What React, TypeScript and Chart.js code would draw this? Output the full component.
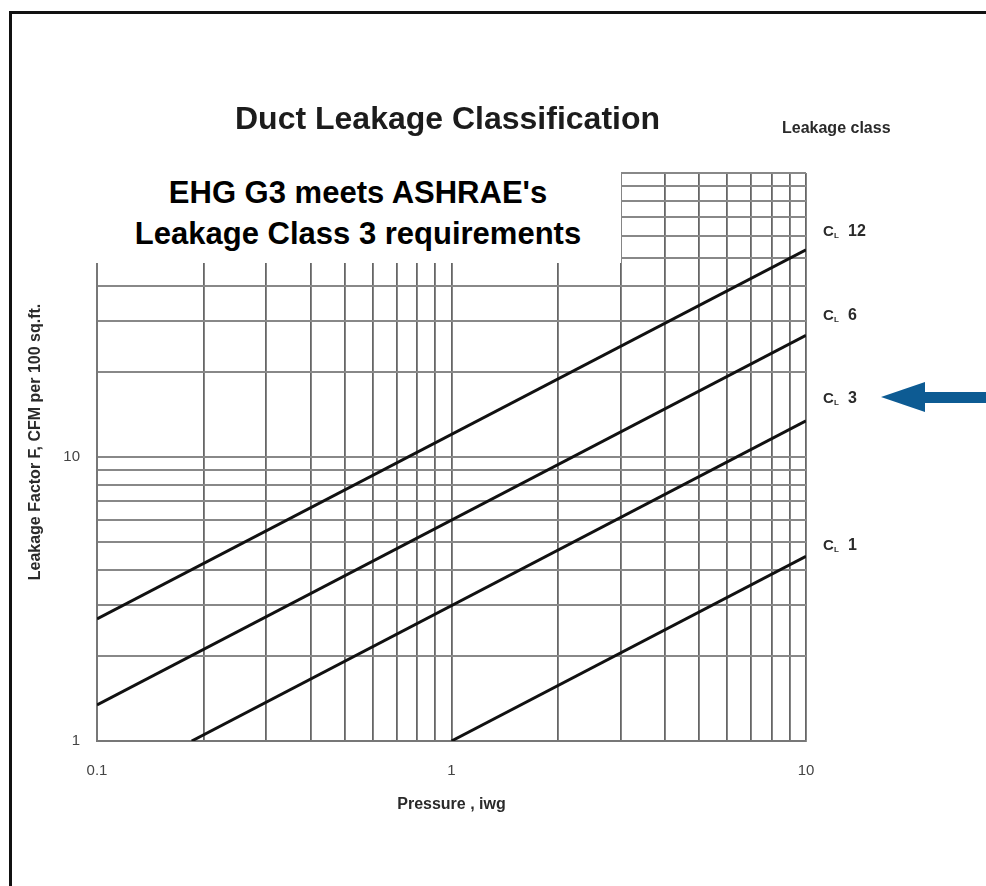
import React, { useEffect, useRef } from "react";
import { Chart, registerables } from "chart.js";

Chart.register(...registerables);

// ---- data ----
const pressureMin = 0.1;
const pressureMax = 10;
const factorMin = 1;
const factorMax = 100;

const xGridValues = [0.1, 0.2, 0.3, 0.4, 0.5, 0.6, 0.7, 0.8, 0.9, 1, 2, 3, 4, 5, 6, 7, 8, 9, 10];
const yGridValues = [1, 2, 3, 4, 5, 6, 7, 8, 9, 10, 20, 30, 40, 50, 60, 70, 80, 90, 100];
const xTickLabels = ["0.1", "1", "10"];
const yTickLabels = ["1", "10"];

const classNames = ["12", "6", "3", "1"];
const cl12 = [{ x: 0.1, y: 2.69 }, { x: 10, y: 53.6 }];
const cl6 = [{ x: 0.1, y: 1.34 }, { x: 10, y: 26.8 }];
const cl3 = [{ x: 0.185, y: 1 }, { x: 10, y: 13.4 }];
const cl1 = [{ x: 1, y: 1 }, { x: 10, y: 4.47 }];

// label positions (page px) for class labels
const classLabelTops = [231, 315, 398, 545];

const FONT = "'Liberation Sans', Arial, Helvetica, sans-serif";

function labelFor(list: string[], value: number): string {
  const found = list.find((l) => Math.abs(parseFloat(l) - value) < 1e-9);
  return found ?? "";
}

export default function App() {
  const canvasRef = useRef<HTMLCanvasElement | null>(null);

  useEffect(() => {
    const canvas = canvasRef.current;
    if (!canvas) return;
    const lineStyle = {
      borderColor: "#111",
      borderWidth: 3,
      pointRadius: 0,
      pointHoverRadius: 0,
      fill: false,
      tension: 0,
    };
    const chart = new Chart(canvas, {
      type: "line",
      data: {
        datasets: [
          { label: "CL " + classNames[0], data: cl12, ...lineStyle },
          { label: "CL " + classNames[1], data: cl6, ...lineStyle },
          { label: "CL " + classNames[2], data: cl3, ...lineStyle },
          { label: "CL " + classNames[3], data: cl1, ...lineStyle },
        ],
      },
      options: {
        responsive: false,
        animation: false,
        devicePixelRatio: 1,
        layout: { padding: { left: 0, top: 173, right: 180, bottom: 0 } },
        plugins: {
          legend: { display: false },
          tooltip: { enabled: false },
          title: { display: false },
        },
        scales: {
          x: {
            type: "logarithmic",
            min: pressureMin,
            max: pressureMax,
            afterBuildTicks: (axis: any) => {
              axis.ticks = xGridValues.map((v) => ({ value: v }));
            },
            afterFit: (axis: any) => {
              axis.height = 145;
            },
            ticks: {
              autoSkip: false,
              maxRotation: 0,
              padding: 21,
              color: "#444",
              font: { family: FONT, size: 15 },
              callback: (value: any) => labelFor(xTickLabels, Number(value)),
            },
            grid: {
              color: "#666",
              lineWidth: 1.8,
              drawTicks: false,
            },
            border: { display: true, color: "#777", width: 2 },
            title: {
              display: true,
              text: "Pressure , iwg",
              color: "#2a2a2a",
              font: { family: FONT, size: 16, weight: "bold" },
              padding: { top: 0, bottom: 72 },
            },
          },
          y: {
            type: "logarithmic",
            min: factorMin,
            max: factorMax,
            afterBuildTicks: (axis: any) => {
              axis.ticks = yGridValues.map((v) => ({ value: v }));
            },
            afterFit: (axis: any) => {
              axis.width = 97;
            },
            ticks: {
              autoSkip: false,
              padding: 17,
              color: "#444",
              font: { family: FONT, size: 15 },
              callback: (value: any) => labelFor(yTickLabels, Number(value)),
            },
            grid: {
              color: "#888",
              lineWidth: 2,
              drawTicks: false,
            },
            border: { display: true, color: "#777", width: 2 },
            title: { display: false },
          },
        },
      },
    } as any);
    return () => chart.destroy();
  }, []);

  const abs = (s: React.CSSProperties): React.CSSProperties => ({ position: "absolute", ...s });

  return (
    <div style={abs({ left: 0, top: 0, width: 986, height: 886, background: "#fff", overflow: "hidden", fontFamily: FONT })}>
      <canvas ref={canvasRef} width={986} height={886} style={abs({ left: 0, top: 0, width: 986, height: 886 })} />
      {/* frame */}
      <div style={abs({ left: 9, top: 11, width: 1100, height: 1100, borderTop: "3px solid #111", borderLeft: "3px solid #111" })} />
      {/* title */}
      <div style={abs({ left: 0, width: 895, top: 102, lineHeight: "32px", textAlign: "center", fontSize: 32, fontWeight: "bold", color: "#1c1c1c", whiteSpace: "nowrap" })}>
        Duct Leakage Classification
      </div>
      <div style={abs({ left: 782, top: 119, lineHeight: "18px", fontSize: 16, fontWeight: "bold", color: "#2a2a2a", whiteSpace: "nowrap" })}>
        Leakage class
      </div>
      {/* y title */}
      <div style={abs({ left: 35, top: 442, transform: "translate(-50%, -50%) rotate(-90deg)", fontSize: 16, fontWeight: "bold", color: "#2a2a2a", whiteSpace: "nowrap", lineHeight: "18px" })}>
        Leakage Factor F, CFM per 100 sq.ft.
      </div>
      {/* white annotation box */}
      <div style={abs({ left: 95, top: 170, width: 526, height: 93, background: "#fff", textAlign: "center", fontSize: 31, fontWeight: "bold", color: "#000", lineHeight: "41px", paddingTop: 2, boxSizing: "border-box", whiteSpace: "nowrap" })}>
        <div>EHG G3 meets ASHRAE's</div>
        <div>Leakage Class 3 requirements</div>
      </div>
      {/* class labels */}
      {classNames.map((name, i) => (
        <div key={name} style={abs({ left: 823, top: classLabelTops[i] - 9, height: 18, lineHeight: "18px", fontWeight: "bold", color: "#2a2a2a", whiteSpace: "nowrap" })}>
          <span style={abs({ left: 0, top: 0, fontSize: 15 })}>C</span>
          <span style={abs({ left: 11, top: 5, fontSize: 8 })}>L</span>
          <span style={abs({ left: 25, top: 0, fontSize: 16 })}>{name}</span>
        </div>
      ))}
      {/* arrow */}
      <div style={abs({ left: 924, top: 392, width: 70, height: 11, background: "#0d5b93" })} />
      <div style={abs({ left: 881, top: 382, width: 0, height: 0, borderTop: "15.5px solid transparent", borderBottom: "15.5px solid transparent", borderRight: "44px solid #0d5b93" })} />
    </div>
  );
}
